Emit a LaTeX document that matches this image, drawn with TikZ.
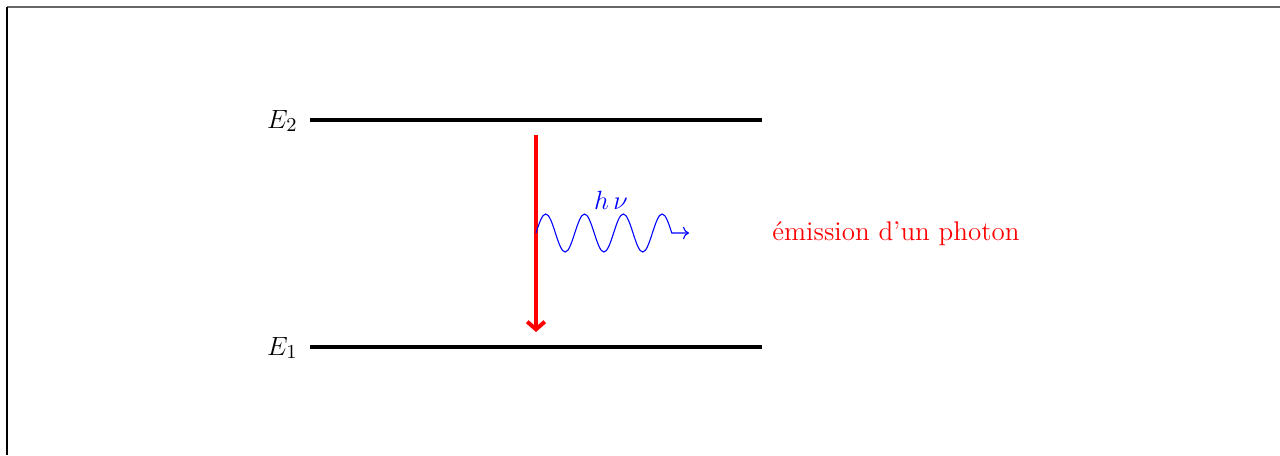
\documentclass[tikz,border=0pt]{standalone}
\usetikzlibrary{arrows.meta}
\begin{document}
\begin{tikzpicture}[x=0.016cm,y=-0.016cm,
  every node/.style={font=\fontsize{12.3}{14.8}\selectfont},
  level/.style={line width=1.8pt,black},
  trans/.style={line width=1.8pt,red,-{Straight Barb[length=3.5pt,width=8pt]}},
  photon/.style={blue,line width=0.5pt,->},
  lbl/.style={inner sep=0pt}]
\useasboundingbox (0,0) rectangle (1280,455);
\draw[gray!80!black,line width=0.6pt] (7,7) -- (1280,7);
\draw[black,line width=0.6pt] (7,7) -- (7,455);
\node[lbl,anchor=east] (E2) at (298,121) {$E_2$};
\node[lbl,anchor=east] (E1) at (298,348) {$E_1$};
\coordinate (a2) at (310,120);
\coordinate (b2) at (762,120);
\coordinate (a1) at (310,347);
\coordinate (b1) at (762,347);
\draw[level] (a2) -- (b2);
\draw[level] (a1) -- (b1);
\coordinate (top) at (536,135);
\coordinate (bot) at (536,332);
\draw[trans] (top) -- (bot);
\coordinate (ws) at (536,233);
\coordinate (we) at (689,233);
\draw[photon] (ws)
  sin ++(9.7,-19) cos ++(9.7,19) sin ++(9.7,19) cos ++(9.7,-19)
  sin ++(9.7,-19) cos ++(9.7,19) sin ++(9.7,19) cos ++(9.7,-19)
  sin ++(9.7,-19) cos ++(9.7,19) sin ++(9.7,19) cos ++(9.7,-19)
  sin ++(9.7,-19) cos ++(9.7,19) -- (we);
\node[blue] (hnu) at (611,200) {$h\,\nu$};
\node[red,anchor=west,lbl] (em) at (772,234) {émission d’un photon};
\end{tikzpicture}
\end{document}
